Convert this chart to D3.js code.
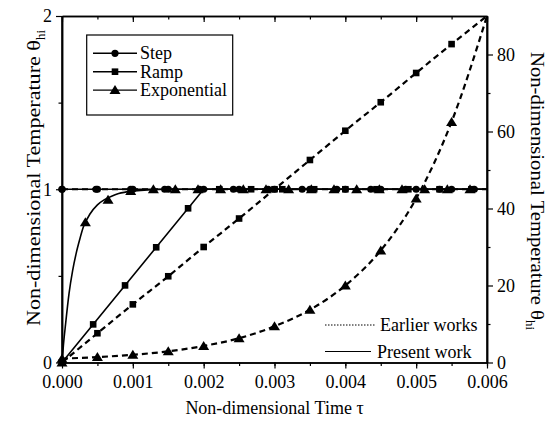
<!DOCTYPE html>
<html>
<head>
<meta charset="utf-8">
<script src="https://cdn.jsdelivr.net/npm/d3@7"></script>
<style>
  html, body { margin: 0; padding: 0; background: #fff; }
  svg { display: block; font-family: "Liberation Serif", "Times New Roman", serif; }
</style>
</head>
<body>
<svg id="chart" width="552" height="422"></svg>
<script>
// ---- data ----
const tauTicks = [0, 0.001, 0.002, 0.003, 0.004, 0.005, 0.006];
const tauTickLabels = ["0.000", "0.001", "0.002", "0.003", "0.004", "0.005", "0.006"];
const leftTicks = [0, 1, 2];
const rightTicks = [0, 20, 40, 60, 80];

// Present work (left axis, 0-2)
const stepPresentTau   = [0, 0.006];
const stepPresentTheta = [1, 1];
const stepPresentMarkTau = [0, 0.00048, 0.00097, 0.00145, 0.00194, 0.00242, 0.00291, 0.00339, 0.00388, 0.00436, 0.00485, 0.00533, 0.00582];

const rampPresentTau   = [0, 0.002, 0.006];
const rampPresentTheta = [0, 1, 1];
const rampPresentMarkTau   = [0, 0.00044, 0.00089, 0.00133, 0.00178, 0.00222, 0.00267, 0.00311, 0.00356, 0.004, 0.00444, 0.00489, 0.00533, 0.00578];
const rampPresentMarkTheta = [0, 0.22, 0.445, 0.665, 0.89, 1, 1, 1, 1, 1, 1, 1, 1, 1];

const expPresentTau   = [0, 0.00002, 0.00005, 0.0001, 0.00015, 0.0002, 0.00025, 0.0003, 0.0004, 0.0005, 0.0006, 0.0007, 0.0008, 0.001, 0.0012, 0.0015, 0.002, 0.006];
const expPresentTheta = [0, 0.1, 0.22, 0.4, 0.53, 0.63, 0.71, 0.78, 0.86, 0.91, 0.94, 0.96, 0.975, 0.99, 0.996, 1, 1, 1];
const expPresentMarkTau   = [0, 0.00033, 0.00065, 0.00097, 0.00129, 0.0016, 0.00192, 0.00224, 0.00256, 0.00288, 0.0032, 0.00352, 0.00384, 0.00416, 0.00448, 0.0048, 0.00512, 0.00544, 0.00576];
const expPresentMarkTheta = [0, 0.81, 0.94, 0.99, 1, 1, 1, 1, 1, 1, 1, 1, 1, 1, 1, 1, 1, 1, 1];

// Earlier works (right axis, 0-90)
const earlierTau = [0, 0.0005, 0.001, 0.0015, 0.002, 0.0025, 0.003, 0.0035, 0.004, 0.0045, 0.005, 0.0055, 0.006];
const stepEarlierTheta = [45, 45, 45, 45, 45, 45, 45, 45, 45, 45, 45, 45, 45];
const rampEarlierTheta = [0, 7.6, 15.1, 22.4, 30, 37.4, 45, 52.6, 60.2, 67.6, 75.2, 82.7, 90];
const expEarlierTheta  = [1.0, 1.4, 2.0, 2.9, 4.3, 6.3, 9.4, 13.7, 20.0, 29.1, 42.6, 62.5, 90];

const legendSeries = ["Step", "Ramp", "Exponential"];
const legendStyles = ["Earlier works", "Present work"];

// ---- layout ----
const svg = d3.select("#chart");
const W = 552, H = 422;
const m = { left: 62, right: 65, top: 16, bottom: 59.5 };
const x = d3.scaleLinear().domain([0, 0.006]).range([m.left, W - m.right]);
const yL = d3.scaleLinear().domain([0, 2]).range([H - m.bottom, m.top]);
const yR = d3.scaleLinear().domain([0, 90]).range([H - m.bottom, m.top]);

const zip = (a, b) => a.map((v, i) => [v, b[i]]);

// ---- symbols ----
function drawMarker(g, shape, cx, cy) {
  if (shape === "circle") {
    g.append("circle").attr("cx", cx).attr("cy", cy).attr("r", 3.6).attr("fill", "#000");
  } else if (shape === "square") {
    g.append("rect").attr("x", cx - 3.3).attr("y", cy - 3.3).attr("width", 6.6).attr("height", 6.6).attr("fill", "#000");
  } else {
    const s = 5;
    g.append("path").attr("d", `M${cx},${cy - s}L${cx + s * 1.1},${cy + s * 0.8}L${cx - s * 1.1},${cy + s * 0.8}Z`).attr("fill", "#000");
  }
}

const plot = svg.append("g");

// earlier works: dashed curves on the right axis
const lineR = d3.line().x(d => x(d[0])).y(d => yR(d[1])).curve(d3.curveMonotoneX);
[stepEarlierTheta, rampEarlierTheta, expEarlierTheta].forEach(vals => {
  plot.append("path").datum(zip(earlierTau, vals))
    .attr("d", lineR).attr("fill", "none").attr("stroke", "#000")
    .attr("stroke-width", 2.2).attr("stroke-dasharray", "6,4");
});

// present work: solid curves on the left axis
const lineL = d3.line().x(d => x(d[0])).y(d => yL(d[1])).curve(d3.curveMonotoneX);
[[stepPresentTau, stepPresentTheta], [rampPresentTau, rampPresentTheta]].forEach(([t, v]) => {
  plot.append("path").datum(zip(t, v)).attr("d", d3.line().x(d => x(d[0])).y(d => yL(d[1])))
    .attr("fill", "none").attr("stroke", "#000").attr("stroke-width", 1.6);
});
plot.append("path").datum(zip(expPresentTau, expPresentTheta)).attr("d", lineL)
  .attr("fill", "none").attr("stroke", "#000").attr("stroke-width", 1.6);

// markers
earlierTau.slice(0, 12).forEach((t, i) => {
  drawMarker(plot, "circle", x(t), yR(stepEarlierTheta[i]));
  drawMarker(plot, "square", x(t), yR(rampEarlierTheta[i]));
  drawMarker(plot, "triangle", x(t), yR(expEarlierTheta[i]));
});
stepPresentMarkTau.forEach(t => drawMarker(plot, "circle", x(t), yL(1)));
rampPresentMarkTau.forEach((t, i) => drawMarker(plot, "square", x(t), yL(rampPresentMarkTheta[i])));
expPresentMarkTau.forEach((t, i) => drawMarker(plot, "triangle", x(t), yL(expPresentMarkTheta[i])));

// ---- axes ----
const tickFont = "18px";
const axisStroke = 1.5;
function styleAxis(g) {
  g.attr("font-family", "Liberation Serif").attr("font-size", tickFont);
  g.selectAll(".domain").attr("stroke", "#000").attr("stroke-width", axisStroke);
  g.selectAll(".tick line").attr("stroke", "#000").attr("stroke-width", 1.2);
  g.selectAll(".tick text").attr("fill", "#000");
}
const minorTau = d3.range(13).map(i => i * 0.0005);

// bottom
svg.append("g").attr("transform", `translate(0,${H - m.bottom})`)
  .call(d3.axisBottom(x).tickValues(minorTau).tickFormat("").tickSize(3.5).tickSizeOuter(0)).call(styleAxis);
svg.append("g").attr("transform", `translate(0,${H - m.bottom})`)
  .call(d3.axisBottom(x).tickValues(tauTicks).tickFormat((d, i) => tauTickLabels[i]).tickSize(6).tickSizeOuter(0).tickPadding(6.5))
  .call(styleAxis);
// top (inward ticks)
svg.append("g").attr("transform", `translate(0,${m.top})`)
  .call(d3.axisBottom(x).tickValues(minorTau).tickFormat("").tickSize(3.5).tickSizeOuter(0)).call(styleAxis);
svg.append("g").attr("transform", `translate(0,${m.top})`)
  .call(d3.axisBottom(x).tickValues(tauTicks).tickFormat("").tickSize(6).tickSizeOuter(0)).call(styleAxis);
// left
svg.append("g").attr("transform", `translate(${m.left},0)`)
  .call(d3.axisLeft(yL).tickValues([0.5, 1.5]).tickFormat("").tickSize(3.5).tickSizeOuter(0)).call(styleAxis);
svg.append("g").attr("transform", `translate(${m.left},0)`)
  .call(d3.axisLeft(yL).tickValues(leftTicks).tickFormat(d3.format("d")).tickSize(6).tickSizeOuter(0).tickPadding(4))
  .call(styleAxis);
// right
svg.append("g").attr("transform", `translate(${W - m.right},0)`)
  .call(d3.axisRight(yR).tickValues([10, 30, 50, 70]).tickFormat("").tickSize(3.5).tickSizeOuter(0)).call(styleAxis);
svg.append("g").attr("transform", `translate(${W - m.right},0)`)
  .call(d3.axisRight(yR).tickValues(rightTicks).tickFormat(d3.format("d")).tickSize(6).tickSizeOuter(0).tickPadding(4))
  .call(styleAxis);
// full-height axis lines
svg.append("line").attr("x1", m.left).attr("x2", m.left).attr("y1", m.top).attr("y2", H - m.bottom)
  .attr("stroke", "#000").attr("stroke-width", axisStroke);
svg.append("line").attr("x1", W - m.right).attr("x2", W - m.right).attr("y1", m.top).attr("y2", H - m.bottom)
  .attr("stroke", "#000").attr("stroke-width", axisStroke);

// ---- axis titles ----
const titleFont = "18px";
svg.append("text").attr("x", (m.left + W - m.right) / 2).attr("y", 414)
  .attr("text-anchor", "middle").style("font-size", titleFont)
  .text("Non-dimensional Time τ");

const lt = svg.append("text").attr("transform", `translate(40,178) rotate(-90)`)
  .attr("text-anchor", "middle").style("font-size", titleFont);
lt.append("tspan").attr("textLength", 286).attr("lengthAdjust", "spacingAndGlyphs").text("Non-dimensional Temperature θ");
lt.append("tspan").attr("dy", 5).style("font-size", "13px").text("hi");

const rt = svg.append("text").attr("transform", `translate(531,191) rotate(90)`)
  .attr("text-anchor", "middle").style("font-size", titleFont);
rt.append("tspan").attr("textLength", 268).attr("lengthAdjust", "spacingAndGlyphs").text("Non-dimensional Temperature θ");
rt.append("tspan").attr("dy", 5).style("font-size", "13px").text("hi");

// ---- series legend ----
const lg = svg.append("g");
lg.append("rect").attr("x", 86.7).attr("y", 35).attr("width", 146).attr("height", 80)
  .attr("fill", "#fff").attr("stroke", "#000").attr("stroke-width", 1.2);
const shapes = ["circle", "square", "triangle"];
legendSeries.forEach((name, i) => {
  const cy = 53.3 + i * 18.4;
  lg.append("line").attr("x1", 93).attr("x2", 137).attr("y1", cy).attr("y2", cy)
    .attr("stroke", "#000").attr("stroke-width", 1.4);
  drawMarker(lg, shapes[i], 115, cy);
  lg.append("text").attr("x", 140).attr("y", cy + 6).style("font-size", "18px").text(name);
});

// ---- line-style legend ----
const sg = svg.append("g");
legendStyles.forEach((name, i) => {
  const cy = 325 + i * 26.5;
  sg.append("line").attr("x1", 325).attr("x2", i === 0 ? 375 : 371).attr("y1", cy).attr("y2", cy)
    .attr("stroke", "#000").attr("stroke-width", 1).attr("stroke-dasharray", i === 0 ? "1.5,1.5" : null);
  sg.append("text").attr("x", i === 0 ? 380 : 377).attr("y", cy + 6).style("font-size", "18px").text(name);
});
</script>
</body>
</html>
